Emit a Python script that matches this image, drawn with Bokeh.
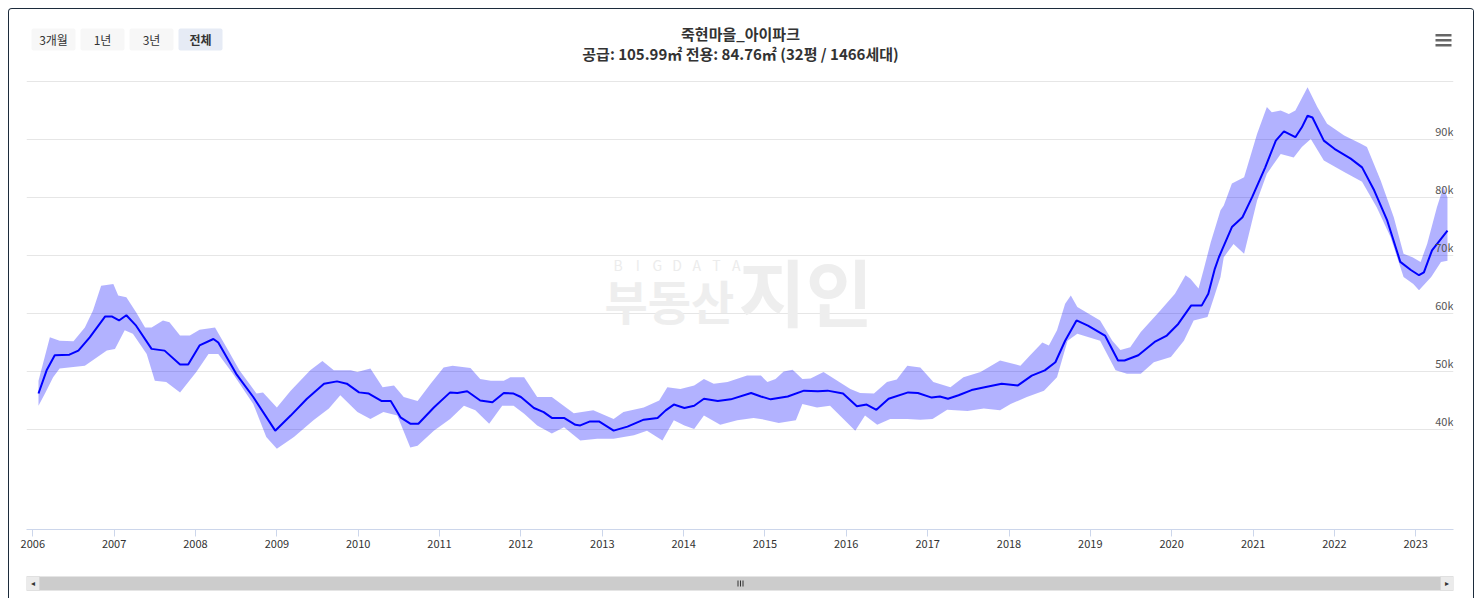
from bokeh.plotting import figure
from bokeh.layouts import column
from bokeh.models import (ColumnDataSource, Range1d, FixedTicker, DatetimeTickFormatter,
                          Label, LabelSet, BoxAnnotation)
from bokeh.core.properties import value
from bokeh.embed import file_html
from bokeh.resources import INLINE
import pandas as pd

FONT = "Noto Sans CJK KR"

# ---------------- data (decimal year, value in thousands) ----------------
line_t = [2006.07, 2006.17, 2006.27, 2006.45, 2006.56, 2006.70, 2006.89, 2006.97, 2007.06, 2007.15,
          2007.27, 2007.46, 2007.62, 2007.81, 2007.91, 2008.05, 2008.22, 2008.28, 2008.50, 2008.71,
          2008.98, 2009.17, 2009.37, 2009.58, 2009.74, 2009.86, 2010.01, 2010.13, 2010.29, 2010.40,
          2010.52, 2010.64, 2010.74, 2010.93, 2011.13, 2011.22, 2011.34, 2011.50, 2011.65, 2011.79,
          2011.91, 2012.00, 2012.16, 2012.28, 2012.38, 2012.53, 2012.67, 2012.73, 2012.85, 2012.96,
          2013.14, 2013.31, 2013.51, 2013.68, 2013.78, 2013.88, 2014.01, 2014.13, 2014.25, 2014.42,
          2014.58, 2014.83, 2014.95, 2015.07, 2015.28, 2015.48, 2015.65, 2015.77, 2015.96, 2016.13,
          2016.25, 2016.37, 2016.52, 2016.76, 2016.88, 2017.05, 2017.15, 2017.25, 2017.38, 2017.54,
          2017.70, 2017.91, 2018.11, 2018.28, 2018.44, 2018.57, 2018.69, 2018.83, 2018.97, 2019.18,
          2019.34, 2019.42, 2019.59, 2019.79, 2019.94, 2020.08, 2020.24, 2020.37, 2020.45, 2020.53,
          2020.58, 2020.62, 2020.74, 2020.87, 2020.99, 2021.15, 2021.28, 2021.38, 2021.52, 2021.60,
          2021.67, 2021.73, 2021.87, 2022.00, 2022.20, 2022.34, 2022.49, 2022.65, 2022.81, 2022.94,
          2023.04, 2023.10, 2023.20, 2023.39]
line_v = [46.2, 50.2, 52.8, 52.9, 53.6, 55.9, 59.5, 59.5, 58.8, 59.7,
          57.9, 53.9, 53.6, 51.2, 51.2, 54.5, 55.6, 55.0, 49.6, 45.6,
          39.8, 42.4, 45.3, 47.9, 48.3, 47.9, 46.4, 46.2, 44.9, 44.9,
          42.1, 41.0, 41.0, 43.8, 46.4, 46.3, 46.6, 45.0, 44.7, 46.3,
          46.2, 45.6, 43.7, 43.0, 42.0, 42.0, 40.8, 40.7, 41.4, 41.4,
          39.8, 40.5, 41.7, 42.0, 43.3, 44.3, 43.7, 44.1, 45.3, 44.9,
          45.2, 46.3, 45.7, 45.2, 45.7, 46.7, 46.6, 46.7, 46.2, 44.0,
          44.3, 43.4, 45.3, 46.4, 46.3, 45.5, 45.7, 45.3, 45.9, 46.8,
          47.3, 47.9, 47.6, 49.3, 50.2, 51.6, 55.3, 58.8, 57.9, 56.2,
          51.9, 51.9, 52.8, 55.1, 56.2, 58.2, 61.4, 61.4, 63.4, 67.7,
          69.7, 71.0, 74.9, 76.6, 80.1, 85.2, 89.8, 91.4, 90.4, 92.1,
          94.1, 93.8, 89.8, 88.4, 86.7, 85.2, 81.2, 76.0, 68.9, 67.5,
          66.6, 67.1, 70.9, 74.3]

upper_t = [2006.07, 2006.21, 2006.33, 2006.50, 2006.64, 2006.74, 2006.84, 2006.99, 2007.05, 2007.15,
           2007.27, 2007.38, 2007.46, 2007.60, 2007.68, 2007.81, 2007.93, 2008.05, 2008.24, 2008.38,
           2008.54, 2008.75, 2008.83, 2009.00, 2009.17, 2009.41, 2009.56, 2009.70, 2009.91, 2009.99,
           2010.15, 2010.30, 2010.44, 2010.56, 2010.73, 2010.89, 2011.05, 2011.16, 2011.38, 2011.50,
           2011.63, 2011.79, 2011.87, 2012.04, 2012.20, 2012.38, 2012.65, 2012.89, 2013.14, 2013.26,
           2013.51, 2013.70, 2013.80, 2013.96, 2014.13, 2014.25, 2014.37, 2014.54, 2014.78, 2014.95,
           2015.03, 2015.13, 2015.23, 2015.34, 2015.46, 2015.56, 2015.72, 2016.05, 2016.17, 2016.34,
           2016.50, 2016.62, 2016.75, 2016.91, 2017.07, 2017.28, 2017.44, 2017.65, 2017.89, 2018.14,
           2018.26, 2018.41, 2018.49, 2018.59, 2018.69, 2018.76, 2018.84, 2019.12, 2019.27, 2019.37,
           2019.49, 2019.62, 2019.86, 2020.04, 2020.17, 2020.23, 2020.33, 2020.39, 2020.48, 2020.60,
           2020.64, 2020.74, 2020.89, 2021.05, 2021.17, 2021.23, 2021.34, 2021.44, 2021.52, 2021.67,
           2021.79, 2021.91, 2022.12, 2022.32, 2022.40, 2022.57, 2022.73, 2022.85, 2022.96, 2023.06,
           2023.14, 2023.26, 2023.34, 2023.39]
upper_v = [48.4, 55.9, 55.3, 55.2, 57.6, 60.5, 64.8, 65.1, 63.1, 62.8,
           60.2, 57.6, 57.6, 58.8, 58.5, 56.2, 56.2, 57.2, 57.6, 54.2,
           50.2, 46.2, 46.4, 43.8, 46.7, 50.2, 51.8, 50.2, 50.2, 49.9,
           50.5, 47.3, 47.6, 45.6, 44.9, 47.9, 50.7, 51.0, 50.6, 48.7,
           48.4, 48.4, 49.0, 49.0, 45.6, 45.6, 42.8, 43.3, 41.8, 43.0,
           43.8, 45.0, 47.3, 47.0, 47.6, 48.7, 47.9, 48.2, 49.3, 49.3,
           48.2, 48.7, 50.0, 50.3, 48.7, 48.8, 49.9, 47.0, 46.3, 46.2,
           48.2, 48.6, 51.0, 50.7, 48.2, 47.3, 49.0, 49.9, 51.9, 51.0,
           52.8, 55.0, 54.5, 57.1, 61.7, 63.1, 61.1, 58.8, 55.3, 53.7,
           54.2, 56.8, 60.5, 63.4, 66.6, 66.0, 64.3, 67.4, 72.3, 77.8,
           78.6, 82.4, 83.5, 91.0, 95.6, 94.7, 95.0, 94.4, 95.0, 99.0,
           95.6, 92.7, 90.7, 89.3, 88.7, 82.9, 76.6, 70.3, 69.7, 68.9,
           72.0, 78.3, 81.8, 80.0]

lower_t = [2006.07, 2006.15, 2006.25, 2006.33, 2006.64, 2006.91, 2007.01, 2007.13, 2007.23, 2007.40,
           2007.50, 2007.64, 2007.81, 2008.01, 2008.16, 2008.28, 2008.46, 2008.71, 2008.87, 2009.00,
           2009.21, 2009.45, 2009.64, 2009.78, 2009.99, 2010.15, 2010.31, 2010.48, 2010.64, 2010.73,
           2010.93, 2011.13, 2011.30, 2011.44, 2011.61, 2011.77, 2011.91, 2012.04, 2012.20, 2012.38,
           2012.53, 2012.73, 2012.94, 2013.14, 2013.39, 2013.55, 2013.74, 2013.88, 2014.01, 2014.13,
           2014.25, 2014.45, 2014.66, 2014.86, 2014.99, 2015.17, 2015.38, 2015.46, 2015.64, 2015.80,
           2015.98, 2016.11, 2016.23, 2016.38, 2016.54, 2016.75, 2016.91, 2017.06, 2017.24, 2017.49,
           2017.69, 2017.89, 2018.02, 2018.22, 2018.43, 2018.59, 2018.72, 2018.84, 2019.12, 2019.31,
           2019.45, 2019.62, 2019.78, 2019.99, 2020.15, 2020.27, 2020.44, 2020.52, 2020.60, 2020.64,
           2020.76, 2020.89, 2021.05, 2021.17, 2021.34, 2021.50, 2021.60, 2021.71, 2021.87, 2022.12,
           2022.34, 2022.52, 2022.69, 2022.85, 2022.97, 2023.04, 2023.19, 2023.31, 2023.39]
lower_v = [44.1, 46.2, 49.0, 50.5, 51.0, 53.6, 53.9, 57.1, 56.5, 53.0,
           48.4, 48.2, 46.4, 49.9, 53.0, 53.0, 49.6, 44.4, 38.7, 36.7,
           38.7, 41.6, 43.6, 45.9, 43.0, 41.8, 43.0, 42.4, 36.9, 37.2,
           39.8, 41.8, 44.1, 43.3, 41.0, 44.1, 44.1, 42.7, 40.7, 39.3,
           40.4, 38.1, 38.4, 38.4, 39.0, 39.8, 38.1, 41.6, 40.7, 40.1,
           42.4, 40.8, 41.6, 42.0, 41.7, 41.1, 41.6, 44.4, 43.8, 44.1,
           41.6, 39.8, 42.4, 40.8, 41.8, 41.8, 41.7, 41.8, 43.4, 43.2,
           43.6, 43.3, 44.4, 45.6, 46.7, 49.0, 55.3, 56.5, 55.3, 50.2,
           49.6, 49.6, 51.6, 52.5, 55.3, 58.8, 59.4, 62.8, 66.3, 69.7,
           72.0, 70.3, 79.5, 84.1, 87.5, 86.9, 88.7, 90.1, 86.4, 84.4,
           82.7, 78.3, 73.2, 66.3, 65.1, 64.0, 66.3, 68.9, 69.1]

tick_years = list(range(2006, 2024))
y_ticks = [40, 50, 60, 70, 80, 90, 100]
y_labels = ["40k", "50k", "60k", "70k", "80k", "90k"]
buttons = ["3개월", "1년", "3년", "전체"]
title_text = "죽현마을_아이파크"
subtitle_text = "공급: 105.99㎡ 전용: 84.76㎡ (32평 / 1466세대)"

# ---------------- helpers ----------------
BASE = pd.Timestamp("2006-01-01")


def to_dt(years):
    return [BASE + pd.Timedelta(days=(y - 2006) * 365.2425) for y in years]


def k(vals):
    return [v * 1000 for v in vals]


FW = 1427  # frame width
X0, YB = 26, 529  # page position of frame left / x-axis line


def sx(px):
    return px - X0


def sy(py):
    return YB - py


p = figure(width=1464, height=556, x_axis_type="datetime",
           x_range=Range1d(to_dt([2005.9226])[0], to_dt([2023.464])[0]),
           y_range=Range1d(22759, 112414),
           min_border_left=17, min_border_right=20, min_border_top=0, min_border_bottom=36,
           toolbar_location=None, output_backend="svg", outline_line_color=None,
           background_fill_color="white", border_fill_color="white")

p.yaxis.visible = False
p.xgrid.visible = False
p.ygrid.ticker = FixedTicker(ticks=k(y_ticks))
p.ygrid.grid_line_color = "#e6e6e6"
p.ygrid.grid_line_width = 1

ax = p.xaxis[0]
ax.ticker = FixedTicker(ticks=[pd.Timestamp(f"{y}-01-01").value / 1e6 for y in tick_years])
ax.formatter = DatetimeTickFormatter(years="%Y", months="%Y", days="%Y", hours="%Y")
ax.axis_line_color = "#ccd6eb"
ax.major_tick_line_color = "#ccd6eb"
ax.major_tick_out = 7
ax.major_tick_in = 0
ax.minor_tick_line_color = None
ax.major_label_standoff = 3
ax.major_label_text_font = FONT
ax.major_label_text_font_size = "11px"
ax.major_label_text_color = "#333333"


def lab(x, y, text, size, color="#333333", style="normal", align="left", baseline="bottom", font=FONT):
    p.add_layout(Label(x=sx(x), y=sy(y), x_units="screen", y_units="screen", text=text,
                       text_align=align, text_baseline=baseline, text_font=font,
                       text_font_size=size, text_color=color, text_font_style=style))


def box(l, r, t, b, color, line=None, radius=0):
    p.add_layout(BoxAnnotation(left=sx(l), right=sx(r), top=sy(t), bottom=sy(b),
                               left_units="screen", right_units="screen", top_units="screen",
                               bottom_units="screen", fill_color=color, fill_alpha=1,
                               line_color=line, border_radius=radius, level="underlay"))


# watermark
for i, ch in enumerate("BIGDATA"):
    lab(617.5 + i * 19.7, 274, ch, "14px", color="#ececec", align="center")
lab(604, 333, "부동산", "47px", color="#eeeeee", style="bold")
lab(738, 341, "지인", "73px", color="#eeeeee", style="bold")

# band and line
band_x = to_dt(upper_t) + to_dt(lower_t)[::-1]
band_y = k(upper_v) + k(lower_v)[::-1]
p.patch(band_x, band_y, fill_color="#0000ff", fill_alpha=0.3, line_color=None)
p.line(to_dt(line_t), k(line_v), line_color="#0000ff", line_width=2)

# y labels inside plot on the right
ysrc = ColumnDataSource(dict(x=[FW] * len(y_labels), y=k(y_ticks[:len(y_labels)]), text=y_labels))
p.add_layout(LabelSet(x="x", y="y", text="text", source=ysrc, x_units="screen", text_align="right",
                      text_baseline="bottom", y_offset=1, text_font=value(FONT),
                      text_font_size=value("11px"), text_color="#555555"))

# titles
lab(740, 33, title_text, "15px", style="bold", align="center", baseline="middle")
lab(740, 53, subtitle_text, "15px", style="bold", align="center", baseline="middle")

# range buttons
btn_left = [31, 80, 129, 178]
for name, bx in zip(buttons, btn_left):
    sel = name == "전체"
    box(bx, bx + 44, 28, 50, "#e6ebf5" if sel else "#f7f7f7", radius=2)
    lab(bx + 22, 39, name, "12px", style="bold" if sel else "normal", align="center", baseline="middle")

# hamburger menu
for yy in [33.5, 38.5, 43.5]:
    box(1435, 1451, yy, yy + 2.5, "#666666")

# ---------------- scrollbar strip (second canvas, frame aligned with main frame) ----------------
s = figure(width=1464, height=33, x_range=Range1d(26, 1453), y_range=Range1d(33, 0),
           min_border_left=17, min_border_right=20, min_border_top=0, min_border_bottom=0,
           toolbar_location=None, output_backend="svg", outline_line_color=None,
           background_fill_color="white", border_fill_color="white")
s.axis.visible = False
s.grid.visible = False
# strip top is at page y 565


def sbox(l, r, t, b, color, line=None):
    s.add_layout(BoxAnnotation(left=l, right=r, top=t - 565, bottom=b - 565,
                               fill_color=color, fill_alpha=1, line_color=line, line_width=1))


sbox(26, 1453, 576, 590, "#cccccc")
sbox(26, 39, 576, 590, "#ebebeb", "#cccccc")
sbox(1440, 1453, 576, 590, "#ebebeb", "#cccccc")
for gx in [737, 739.5, 742]:
    sbox(gx, gx + 1, 580, 586, "#333333")
s.add_layout(Label(x=32.5, y=583 - 565, text="◂", text_align="center", text_baseline="middle",
                   text_font="DejaVu Sans", text_font_size="8px", text_color="#333333"))
s.add_layout(Label(x=1446.5, y=583 - 565, text="▸", text_align="center", text_baseline="middle",
                   text_font="DejaVu Sans", text_font_size="8px", text_color="#333333"))

root = column(p, s, spacing=0)
root.styles = {"border-top": "1px solid #1c2b3b", "border-left": "1px solid #1c2b3b",
               "border-right": "1px solid #1c2b3b", "border-top-left-radius": "4px",
               "border-top-right-radius": "4px", "margin-left": "8px", "margin-top": "8px"}

open("out.html", "w").write(file_html(root, INLINE))
